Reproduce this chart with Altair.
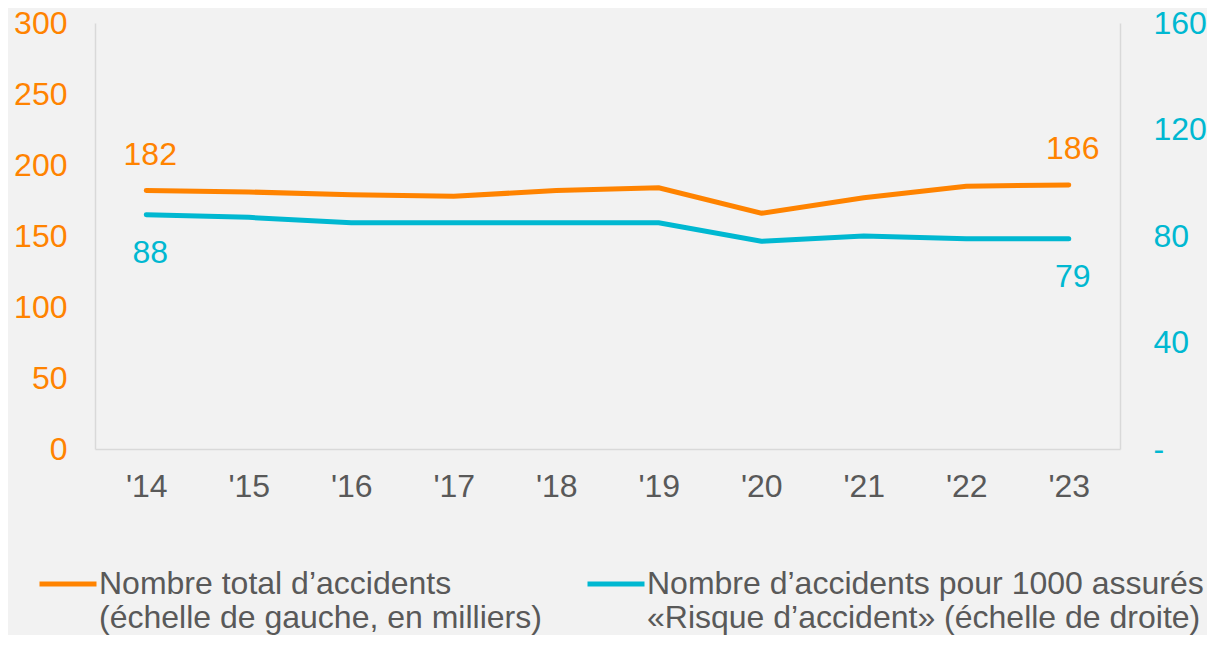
import altair as alt
import pandas as pd

years = ["'14", "'15", "'16", "'17", "'18", "'19", "'20", "'21", "'22", "'23"]
total_accidents = [182, 181, 179, 178, 182, 184, 166, 177, 185, 186]
risk_per_1000 = [88, 87, 85, 85, 85, 85, 78, 80, 79, 79]
labelled_years = ["'14", "'23"]
left_ticks = [0, 50, 100, 150, 200, 250, 300]
right_ticks = [0, 40, 80, 120, 160]
series_names = [
    "Nombre total d’accidents|(échelle de gauche, en milliers)",
    "Nombre d’accidents pour 1000 assurés|«Risque d’accident» (échelle de droite)",
]

ORANGE = "#FF8300"
BLUE = "#00B8D1"
GRAY = "#595959"
AXIS = "#D9D9D9"
FONT = "Liberation Sans"

df = pd.DataFrame({"year": years, "total": total_accidents, "risk": risk_per_1000})

x_enc = alt.X(
    "year:O",
    sort=years,
    scale=alt.Scale(type="point", padding=0.5),
    axis=alt.Axis(
        title=None, labelAngle=0, labelColor=GRAY, labelFontSize=32, labelFont=FONT,
        ticks=False, domainColor=AXIS, domainWidth=1.5, labelPadding=22, grid=False,
    ),
)

color_enc = alt.Color(
    "serie:N",
    scale=alt.Scale(domain=series_names, range=[ORANGE, BLUE]),
    legend=alt.Legend(
        title=None, orient="none", legendX=-58, legendY=530, direction="horizontal",
        columns=2, symbolType="stroke", symbolSize=3249, symbolStrokeWidth=5,
        labelFontSize=32, labelColor=GRAY, labelFont=FONT, labelLimit=0,
        labelExpr="split(datum.label, '|')", columnPadding=35, labelOffset=0,
        padding=0,
    ),
)

y_left = alt.Y(
    "total:Q",
    scale=alt.Scale(domain=[0, 300], nice=False),
    axis=alt.Axis(
        title=None, orient="left", values=left_ticks, labelColor=ORANGE, labelFontSize=32,
        labelFont=FONT, ticks=False, tickSize=0, domainColor=AXIS, domainWidth=1.5,
        labelPadding=28, grid=False,
    ),
)

y_right = alt.Y(
    "risk:Q",
    scale=alt.Scale(domain=[0, 160], nice=False),
    axis=alt.Axis(
        title=None, orient="right", values=right_ticks, labelColor=BLUE, labelFontSize=32,
        labelFont=FONT, ticks=False, tickSize=0, domainColor=AXIS, domainWidth=1.5,
        labelPadding=33, grid=False,
        labelExpr="datum.value == 0 ? '-' : datum.label",
    ),
)

base = alt.Chart(df)

orange_line = base.transform_calculate(serie=f"'{series_names[0]}'").mark_line(
    strokeWidth=5, strokeCap="round"
).encode(x=x_enc, y=y_left, color=color_enc)

orange_text = base.transform_filter(
    alt.FieldOneOfPredicate(field="year", oneOf=labelled_years)
).mark_text(dx=4, dy=-36, fontSize=32, font=FONT, color=ORANGE).encode(
    x=x_enc, y=y_left, text=alt.Text("total:Q", format="d")
)

blue_line = base.transform_calculate(serie=f"'{series_names[1]}'").mark_line(
    strokeWidth=5, strokeCap="round"
).encode(x=x_enc, y=y_right, color=color_enc)

blue_text = base.transform_filter(
    alt.FieldOneOfPredicate(field="year", oneOf=labelled_years)
).mark_text(dx=4, dy=38, fontSize=32, font=FONT, color=BLUE).encode(
    x=x_enc, y=y_right, text=alt.Text("risk:Q", format="d")
)

left_layer = alt.layer(orange_line, orange_text)
right_layer = alt.layer(blue_line, blue_text)

chart = (
    alt.layer(left_layer, right_layer)
    .resolve_scale(y="independent")
    .properties(
        width=1025,
        height=426,
        autosize=alt.AutoSizeParams(type="none"),
        padding={"left": 87, "top": 15, "right": 87, "bottom": 186},
    )
    .configure(background="#F2F2F2", font=FONT)
    .configure_view(stroke="transparent")
)

chart.save("out.html", embed_options={"renderer": "svg", "actions": False})
